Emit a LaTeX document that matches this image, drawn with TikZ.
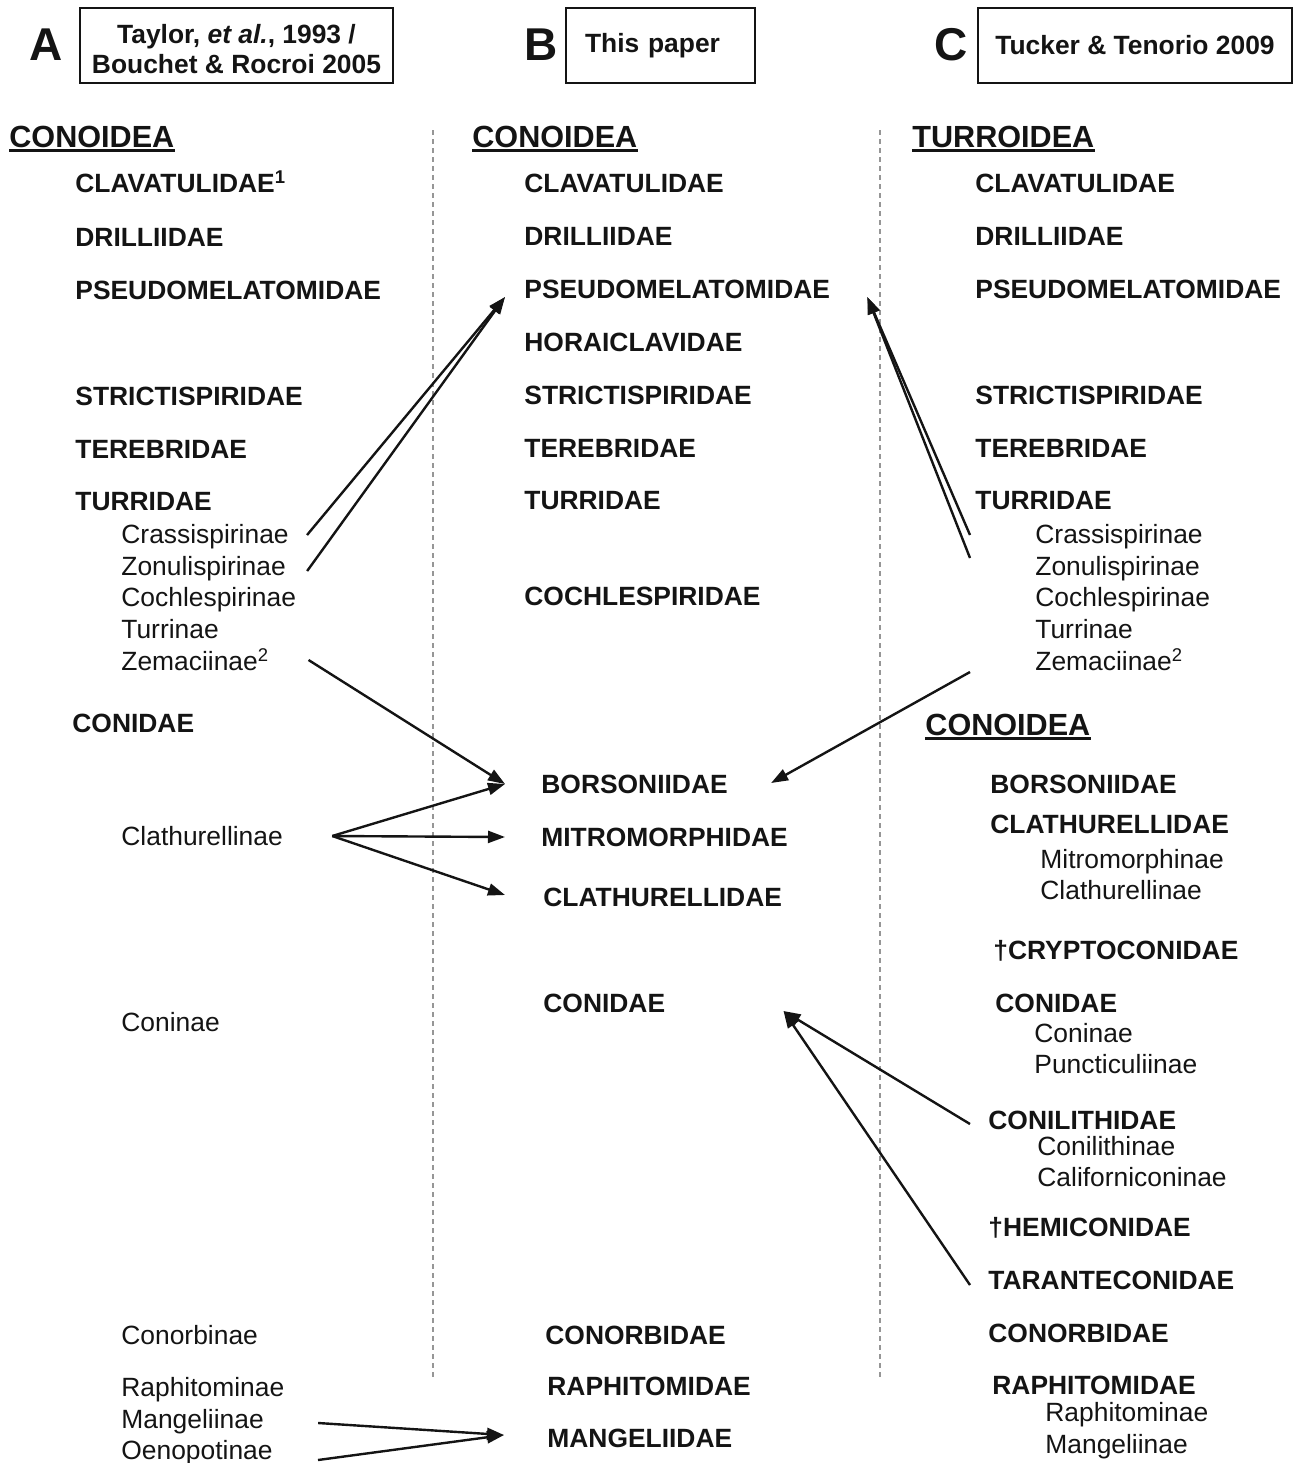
\documentclass[tikz,border=0pt]{standalone}
\usepackage{fontspec}
\setmainfont{Liberation Sans}
\usepackage{tikz}
\definecolor{dd}{RGB}{150, 150, 150}
\definecolor{tt}{RGB}{20, 20, 20}
\usetikzlibrary{arrows.meta}

\begin{document}
\begin{tikzpicture}
			[x=0.5pt,y=-0.5pt,every node/.style={inner sep=0pt,text=tt},
			fam/.style={anchor=west, font=\bfseries\fontsize{13.2}{15}\selectfont, text height=9.4pt, text depth=0pt},
			sub/.style={anchor=west, font=\fontsize{13.2}{15}\selectfont, text height=9.4pt, text depth=0pt},
			head/.style={anchor=west, font=\bfseries\fontsize{15.3}{18}\selectfont, text height=11pt, text depth=0pt},
			lett/.style={font=\bfseries\fontsize{23}{26}\selectfont},
			refbox/.style={draw=tt, line width=0.9pt, minimum height=37.5pt, font=\bfseries\fontsize{13.2}{15}\selectfont},
			arr/.style={-{Triangle[length=8.5pt,width=6pt]}, line width=1.2pt, color=tt},
			uline/.style={line width=1.4pt, color=tt}]
			\useasboundingbox (0,0) rectangle (1295,1463);
			% headers
			\node (lA) [lett] at (46,45) {A};
			\node (lB) [lett] at (541,45) {B};
			\node (lC) [lett] at (951,45) {C};
			\draw [draw=tt, line width=0.9pt] (80,8) rectangle (393,83);
			\node (rA) [font=\bfseries\fontsize{13.2}{15}\selectfont, align=center] at (236.5,49) {Taylor, \textit{et al.}, 1993 /\\Bouchet \& Rocroi 2005};
			\node (rB) [refbox, inner xsep=9.5pt, text width=75.5pt, align=left] at (660.5,45.5) {\raisebox{-1.5pt}{This paper}};
			\node (rC) [refbox, minimum width=157pt, align=center] at (1135,45.5) {Tucker \& Tenorio 2009};
			% separators
			\draw [color=dd, line width=0.8pt, dash pattern=on 2.5pt off 2pt] (433,130) -- (433,1380);
			\draw [color=dd, line width=0.8pt, dash pattern=on 2.5pt off 2pt] (880,130) -- (880,1380);
			% column A
			\node (hA) [head] at (9,136) {CONOIDEA};
			\node (a1) [fam] at (75,183) {CLAVATULIDAE\textsuperscript{1}};
			\node (a2) [fam] at (75,237) {DRILLIIDAE};
			\node (a3) [fam] at (75,290) {PSEUDOMELATOMIDAE};
			\node (a4) [fam] at (75,396) {STRICTISPIRIDAE};
			\node (a5) [fam] at (75,449) {TEREBRIDAE};
			\node (a6) [fam] at (75,501) {TURRIDAE};
			\node (a7) [sub] at (121,534) {Crassispirinae};
			\node (a8) [sub] at (121,566) {Zonulispirinae};
			\node (a9) [sub] at (121,597) {Cochlespirinae};
			\node (a10) [sub] at (121,629) {Turrinae};
			\node (a11) [sub] at (121,661) {Zemaciinae\textsuperscript{2}};
			\node (a12) [fam] at (72,723) {CONIDAE};
			\node (a13) [sub] at (121,836) {Clathurellinae};
			\node (a14) [sub] at (121,1022) {Coninae};
			\node (a15) [sub] at (121,1335) {Conorbinae};
			\node (a16) [sub] at (121,1387) {Raphitominae};
			\node (a17) [sub] at (121,1419) {Mangeliinae};
			\node (a18) [sub] at (121,1450) {Oenopotinae};
			% column B
			\node (hB) [head] at (472,136) {CONOIDEA};
			\node (b1) [fam] at (524,183) {CLAVATULIDAE};
			\node (b2) [fam] at (524,236) {DRILLIIDAE};
			\node (b3) [fam] at (524,289) {PSEUDOMELATOMIDAE};
			\node (b4) [fam] at (524,342) {HORAICLAVIDAE};
			\node (b5) [fam] at (524,395) {STRICTISPIRIDAE};
			\node (b6) [fam] at (524,448) {TEREBRIDAE};
			\node (b7) [fam] at (524,500) {TURRIDAE};
			\node (b8) [fam] at (524,596) {COCHLESPIRIDAE};
			\node (b9) [fam] at (541,784) {BORSONIIDAE};
			\node (b10) [fam] at (541,837) {MITROMORPHIDAE};
			\node (b11) [fam] at (543,897) {CLATHURELLIDAE};
			\node (b12) [fam] at (543,1003) {CONIDAE};
			\node (b13) [fam] at (545,1335) {CONORBIDAE};
			\node (b14) [fam] at (547,1386) {RAPHITOMIDAE};
			\node (b15) [fam] at (547,1438) {MANGELIIDAE};
			% column C
			\node (hC) [head] at (912,136) {TURROIDEA};
			\node (c1) [fam] at (975,183) {CLAVATULIDAE};
			\node (c2) [fam] at (975,236) {DRILLIIDAE};
			\node (c3) [fam] at (975,289) {PSEUDOMELATOMIDAE};
			\node (c4) [fam] at (975,395) {STRICTISPIRIDAE};
			\node (c5) [fam] at (975,448) {TEREBRIDAE};
			\node (c6) [fam] at (975,500) {TURRIDAE};
			\node (c7) [sub] at (1035,534) {Crassispirinae};
			\node (c8) [sub] at (1035,566) {Zonulispirinae};
			\node (c9) [sub] at (1035,597) {Cochlespirinae};
			\node (c10) [sub] at (1035,629) {Turrinae};
			\node (c11) [sub] at (1035,661) {Zemaciinae\textsuperscript{2}};
			\node (hD) [head] at (925,724) {CONOIDEA};
			\node (c12) [fam] at (990,784) {BORSONIIDAE};
			\node (c13) [fam] at (990,824) {CLATHURELLIDAE};
			\node (c14) [sub] at (1040,859) {Mitromorphinae};
			\node (c15) [sub] at (1040,890) {Clathurellinae};
			\node (c16) [fam] at (993,950) {\textdagger CRYPTOCONIDAE};
			\node (c17) [fam] at (995,1003) {CONIDAE};
			\node (c18) [sub] at (1034,1033) {Coninae};
			\node (c19) [sub] at (1034,1064) {Puncticuliinae};
			\node (c20) [fam] at (988,1120) {CONILITHIDAE};
			\node (c21) [sub] at (1037,1146) {Conilithinae};
			\node (c22) [sub] at (1037,1177) {Californiconinae};
			\node (c23) [fam] at (988,1227) {\textdagger HEMICONIDAE};
			\node (c24) [fam] at (988,1280) {TARANTECONIDAE};
			\node (c25) [fam] at (988,1333) {CONORBIDAE};
			\node (c26) [fam] at (992,1385) {RAPHITOMIDAE};
			\node (c27) [sub] at (1045,1412) {Raphitominae};
			\node (c28) [sub] at (1045,1444) {Mangeliinae};
			% underlines
			\draw [uline] ([shift={(0,3)}]hA.south west) -- ([shift={(0,3)}]hA.south east);
			\draw [uline] ([shift={(0,3)}]hB.south west) -- ([shift={(0,3)}]hB.south east);
			\draw [uline] ([shift={(0,3)}]hC.south west) -- ([shift={(0,3)}]hC.south east);
			\draw [uline] ([shift={(0,3)}]hD.south west) -- ([shift={(0,3)}]hD.south east);
			% arrows
			\draw [arr] ([shift={(18,1)}]a7.east) -- ([shift={(-19,8)}]b3.west);
			\draw [arr] ([shift={(21,5)}]a8.east) -- ([shift={(-19,8)}]b3.west);
			\draw [arr] ([shift={(-65,1)}]c7.west) -- ([shift={(37,8)}]b3.east);
			\draw [arr] ([shift={(-65,-8)}]c8.west) -- ([shift={(37,8)}]b3.east);
			\draw [arr] ([shift={(39,-1)}]a11.east) -- ([shift={(-36,0)}]b9.west);
			\draw [arr] ([shift={(49,0)}]a13.east) -- ([shift={(-36,0)}]b9.west);
			\draw [arr] ([shift={(49,0)}]a13.east) -- ([shift={(-36,0)}]b10.west);
			\draw [arr] ([shift={(49,0)}]a13.east) -- ([shift={(-38,-2)}]b11.west);
			\draw [arr] ([shift={(-65,11)}]c11.west) -- ([shift={(43,-1)}]b9.east);
			\draw [arr] ([shift={(-18,4)}]c20.west) -- ([shift={(118,8)}]b12.east);
			\draw [arr] ([shift={(-18,5)}]c24.west) -- ([shift={(118,8)}]b12.east);
			\draw [arr] ([shift={(54,4)}]a17.east) -- ([shift={(-43,-3)}]b15.west);
			\draw [arr] ([shift={(45,10)}]a18.east) -- ([shift={(-43,-3)}]b15.west);
		\end{tikzpicture}
\end{document}
